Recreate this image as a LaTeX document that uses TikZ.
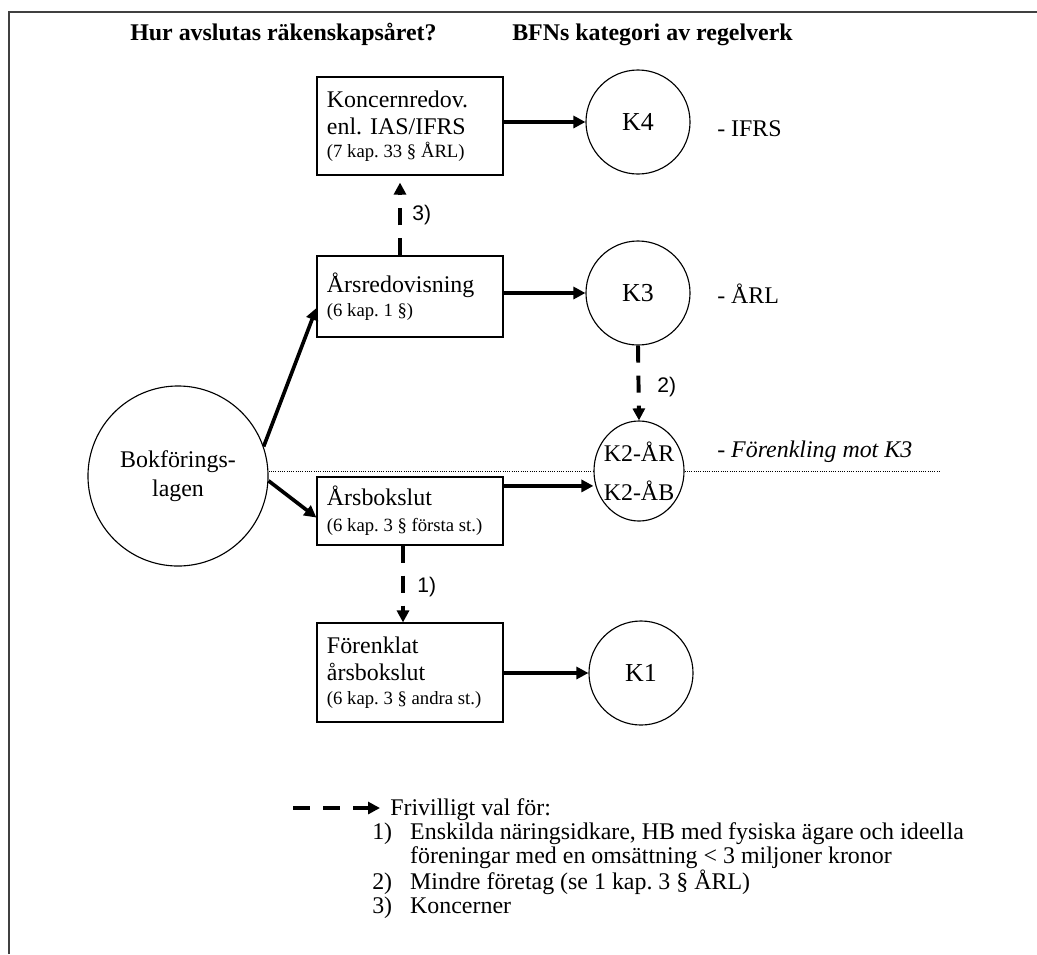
\documentclass[tikz,border=0pt]{standalone}
\usepackage{fontspec}
\setmainfont{Liberation Serif}
\newfontfamily\labelfont{Liberation Sans}
\usetikzlibrary{arrows.meta,calc,shapes.geometric}

\frenchspacing
\newcommand{\txtnorm}{\fontsize{17}{19.5}\selectfont}
\newcommand{\txtsmall}{\fontsize{13.3}{15}\selectfont\spaceskip=0pt\xspaceskip=0pt}

\begin{document}
\begin{tikzpicture}[x=0.025cm, y=-0.025cm,
    box/.style={draw, line width=0.8pt, rectangle, align=left, text width=4.15cm,
        inner xsep=0.25cm, inner ysep=0pt, font=\txtnorm},
    kcirc/.style={draw, line width=0.8pt, circle, minimum size=2.6cm, inner sep=0pt,
        font=\fontsize{18.4}{20}\selectfont},
    pil/.style={line width=2.6pt, -{Triangle[length=0.3cm,width=0.3cm]}},
    valpil/.style={line width=2.8pt, dash pattern=on 0.425cm off 0.325cm,
        -{Triangle[length=0.3cm,width=0.3cm]}},
    nummer/.style={font=\labelfont\fontsize{15}{17}\selectfont, anchor=west, inner sep=0pt},
    regel/.style={font=\txtnorm, anchor=west, inner sep=0pt},
    prickad/.style={line width=0.6pt, densely dotted}]

    \useasboundingbox (0,0) rectangle (1037,954);

    % 1. Ram och rubriker
    \draw[line width=1.5pt, draw=black!75] (9,954) -- (9,12) -- (1037,12);
    \node[font=\txtnorm\bfseries, anchor=base west, inner sep=0pt] (rubrik1) at (130,40) {Hur avslutas räkenskapsåret?};
    \node[font=\txtnorm\bfseries, anchor=base west, inner sep=0pt] (rubrik2) at (512,40) {BFNs kategori av regelverk};

    % 2. Lådorna i mitten
    \node[box, minimum height=2.45cm] (koncern) at (410,126)
        {Koncernredov.\\enl. IAS/IFRS\\[-3.3pt]{\txtsmall (7 kap. 33 § ÅRL)}};
    \node[box, minimum height=2.025cm] (arsred) at (410,296.5)
        {Årsredovisning\\[-2pt]{\txtsmall (6 kap. 1 §)}\\[4pt]};
    \node[box, minimum height=1.7cm] (arsbok) at (410,511)
        {Årsbokslut\\[-1pt]{\txtsmall (6 kap. 3 § första st.)}};
    \node[box, minimum height=2.475cm] (forenk) at (410,672.5)
        {Förenklat\\årsbokslut\\[-2.5pt]{\txtsmall (6 kap. 3 § andra st.)}};

    % 3. Cirklarna
    \node[draw, line width=0.8pt, circle, minimum size=4.5cm, inner sep=0pt, align=center,
        font=\fontsize{17}{20.5}\selectfont] (bokf) at (178,476) {Bokförings-\\lagen};
    \node[kcirc] (k4) at (638,122) {K4};
    \node[kcirc] (k3) at (638,293) {K3};
    \node[draw, line width=0.8pt, ellipse, minimum width=2.25cm, minimum height=2.5cm, inner sep=0pt,
        align=center, font=\fontsize{17}{28}\selectfont] (k2) at (639,471)
        {\makebox[0pt]{K2-ÅR}\\\makebox[0pt]{K2-ÅB}};
    \node[kcirc] (k1) at (641,673) {K1};

    % 4. Regelverk till höger
    \node[regel] (ifrs) at (717,129) {- IFRS};
    \node[regel] (arl) at (717,294) {- ÅRL};
    \node[regel, font=\txtnorm\itshape] (forenkling) at (717,452) {- Förenkling mot K3};

    % 5. Heldragna pilar
    \draw[pil] (bokf.19) -- (arsred.187);
    \draw[pil] (bokf.-3) -- (arsbok.184);
    \draw[pil] (koncern.east |- k4.west) -- (k4.west);
    \draw[pil] (arsred.east |- k3.west) -- (k3.west);
    \draw[pil] (arsbok.15) -- (arsbok.15 -| k2.west);
    \draw[pil] (forenk.east |- k1.west) -- (k1.west);

    % 6. Streckade pilar (frivilligt val)
    \draw[valpil, shorten >=0.175cm] ($(arsred.north)+(-10,0)$) -- ($(koncern.south)+(-10,0)$);
    \draw[valpil] (k3.south) -- (k2.north);
    \draw[valpil] ($(arsbok.south)+(-7,0)$) -- ($(forenk.north)+(-7,0)$);
    \node[nummer] (nr3) at (412,215) {3)};
    \node[nummer] (nr2) at (657,387) {2)};
    \node[nummer] (nr1) at (417,587) {1)};

    % 7. Prickad skiljelinje
    \coordinate (dotslut) at (940,471);
    \draw[prickad] (bokf.east |- k2.west) -- (k2.west);
    \draw[prickad] (k2.east) -- (dotslut);

    % 8. Förklaring
    \coordinate (legstart) at (293,808);
    \node[regel, anchor=base west] (legtext) at (390,815) {Frivilligt val för:};
    \draw[valpil, shorten >=0.25cm] (legstart) -- (legstart -| legtext.west);
    \node[font=\fontsize{17}{17}\selectfont, anchor=base west, inner sep=0pt] (leglista) at (372,839)
        {\begin{tabular}[t]{@{}l@{\hspace{0.45cm}}l@{}}
        1) & Enskilda näringsidkare, HB med fysiska ägare och ideella\\
           & föreningar med en omsättning < 3 miljoner kronor\\
        2) & Mindre företag (se 1 kap. 3 § ÅRL)\\
        3) & Koncerner
        \end{tabular}};

\end{tikzpicture}
\end{document}
